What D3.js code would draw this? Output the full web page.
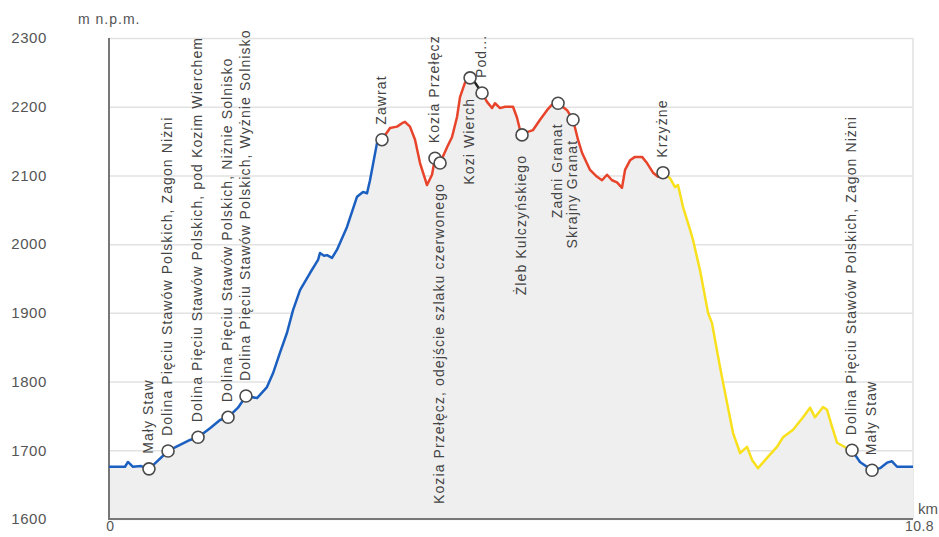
<!DOCTYPE html>
<html>
<head>
<meta charset="utf-8">
<script src="https://cdn.jsdelivr.net/npm/d3@7"></script>
<style>
  body { margin: 0; background: #fff; }
  text { font-family: "Liberation Sans", Arial, sans-serif; }
</style>
</head>
<body>
<div id="chart"></div>
<script>
// Profile segments: [distance km, elevation m]
const blueStart = [
  [0.00, 1676], [0.215, 1676], [0.255, 1683], [0.322, 1676], [0.43, 1677],
  [0.537, 1673], [0.618, 1681], [0.793, 1699], [0.954, 1708], [1.088, 1715],
  [1.196, 1719], [1.357, 1732], [1.491, 1744], [1.599, 1748], [1.733, 1762],
  [1.840, 1779], [1.988, 1776], [2.122, 1792], [2.203, 1812], [2.297, 1842],
  [2.391, 1871], [2.472, 1904], [2.566, 1933], [2.700, 1958], [2.808, 1977],
  [2.834, 1987], [2.888, 1983], [2.929, 1984], [2.996, 1980], [3.063, 1992],
  [3.197, 2025], [3.332, 2069], [3.412, 2076], [3.466, 2074], [3.506, 2093],
  [3.600, 2147], [3.667, 2152]
];
const redRidgeA = [
  [3.667, 2152], [3.775, 2169], [3.869, 2171], [3.936, 2176], [3.976, 2178],
  [4.043, 2171], [4.111, 2152], [4.178, 2118], [4.272, 2086], [4.339, 2101],
  [4.379, 2125], [4.447, 2118], [4.541, 2141], [4.608, 2156], [4.675, 2185],
  [4.715, 2214], [4.782, 2235], [4.850, 2242]
];
const blackPiece = [
  [4.850, 2242], [4.917, 2235], [5.011, 2220]
];
const redRidgeB = [
  [5.011, 2220], [5.078, 2207], [5.145, 2198], [5.185, 2205], [5.253, 2198],
  [5.320, 2200], [5.427, 2200], [5.481, 2184], [5.521, 2166], [5.548, 2159],
  [5.615, 2163], [5.696, 2166], [5.790, 2181], [5.884, 2195], [5.951, 2203],
  [6.032, 2205], [6.153, 2195], [6.233, 2181], [6.300, 2152], [6.354, 2133],
  [6.462, 2108], [6.556, 2098], [6.623, 2093], [6.690, 2101], [6.757, 2093],
  [6.824, 2090], [6.891, 2082], [6.932, 2108], [6.999, 2122], [7.066, 2127],
  [7.160, 2127], [7.227, 2118], [7.308, 2104], [7.375, 2098], [7.442, 2104]
];
const yellowDescent = [
  [7.442, 2104], [7.536, 2096], [7.603, 2083], [7.643, 2086], [7.711, 2054],
  [7.805, 2021], [7.845, 2006], [7.939, 1962], [8.047, 1900], [8.100, 1885],
  [8.208, 1821], [8.302, 1769], [8.383, 1725], [8.477, 1696], [8.571, 1705],
  [8.638, 1686], [8.718, 1674], [8.839, 1689], [8.973, 1705], [9.054, 1719],
  [9.189, 1730], [9.323, 1748], [9.417, 1762], [9.484, 1748], [9.592, 1763],
  [9.645, 1759], [9.713, 1734], [9.780, 1711], [9.914, 1703], [9.981, 1700]
];
const blueEnd = [
  [9.981, 1700], [10.088, 1683], [10.250, 1671], [10.357, 1674], [10.451, 1682],
  [10.518, 1684], [10.586, 1676], [10.800, 1676]
];

// Waypoints
const pointNames = [
  "Mały Staw",
  "Dolina Pięciu Stawów Polskich, Zagon Niżni",
  "Dolina Pięciu Stawów Polskich, pod Kozim Wierchem",
  "Dolina Pięciu Stawów Polskich, Niżnie Solnisko",
  "Dolina Pięciu Stawów Polskich, Wyżnie Solnisko",
  "Zawrat",
  "Kozia Przełęcz",
  "Kozia Przełęcz, odejście szlaku czerwonego",
  "Kozi Wierch",
  "Pod...",
  "Żleb Kulczyńskiego",
  "Zadni Granat",
  "Skrajny Granat",
  "Krzyżne",
  "Dolina Pięciu Stawów Polskich, Zagon Niżni",
  "Mały Staw"
];
const pointKm = [0.537, 0.793, 1.196, 1.599, 1.840, 3.667, 4.379, 4.447,
                 4.850, 5.011, 5.548, 6.032, 6.233, 7.442, 9.981, 10.250];
const pointElev = [1673, 1699, 1719, 1748, 1779, 2152, 2125, 2118,
                   2242, 2220, 2159, 2205, 2181, 2104, 1700, 1671];
const labelBelow = [false, false, false, false, false, false, false, true,
                    true, false, true, true, true, false, false, false];

const yTicks = [1600, 1700, 1800, 1900, 2000, 2100, 2200, 2300];
const xTicks = [0, 10.8];

// ------------------------------------------
const width = 939, height = 537;
const plotLeft = 109, plotRight = 913, plotTop = 38, plotBottom = 519;

const svg = d3.select("#chart").append("svg")
    .attr("width", width)
    .attr("height", height);

const x = d3.scaleLinear().domain([0, 10.8]).range([plotLeft, plotRight]);
const y = d3.scaleLinear().domain([1600, 2300]).range([plotBottom, plotTop]);

// grid lines
svg.append("g")
    .attr("transform", `translate(${plotLeft},0)`)
    .call(d3.axisLeft(y).tickValues(yTicks).tickSize(-(plotRight - plotLeft)).tickFormat(""))
    .call(g => g.select(".domain").remove())
    .call(g => g.selectAll("line").attr("stroke", "#e2e2e2").attr("stroke-width", 1.5));

// right border
svg.append("line")
    .attr("x1", plotRight).attr("x2", plotRight)
    .attr("y1", plotTop).attr("y2", plotBottom)
    .attr("stroke", "#e2e2e2").attr("stroke-width", 1.5);

// filled area under profile
const allPoints = blueStart.concat(redRidgeA, blackPiece, redRidgeB, yellowDescent, blueEnd);
const area = d3.area()
    .x(d => x(d[0]))
    .y0(y(1600))
    .y1(d => y(d[1]));

svg.append("path")
    .datum(allPoints)
    .attr("d", area)
    .attr("fill", "#efefef");

// y tick labels
svg.append("g")
    .attr("transform", "translate(47,0)")
    .call(d3.axisLeft(y).tickValues(yTicks).tickSize(0).tickPadding(0).tickFormat(d3.format("d")))
    .call(g => g.select(".domain").remove())
    .call(g => g.selectAll("text")
        .attr("fill", "#555")
        .style("font-size", "15px")
        .style("letter-spacing", "0.6px")
        .style("font-family", "'Liberation Sans', Arial, sans-serif"));

// x tick labels
svg.append("g")
    .attr("transform", `translate(0,${plotBottom})`)
    .call(d3.axisBottom(x).tickValues(xTicks).tickSize(0).tickPadding(2).tickFormat(d => d === 0 ? "0" : "10.8"))
    .call(g => g.select(".domain").remove())
    .call(g => g.selectAll("text")
        .attr("fill", "#555")
        .attr("dx", d => d === 0 ? 1 : 6)
        .style("font-size", "14px")
        .style("letter-spacing", "0.5px")
        .style("font-family", "'Liberation Sans', Arial, sans-serif"));

// axis lines
svg.append("line")
    .attr("x1", plotLeft).attr("x2", plotLeft)
    .attr("y1", plotTop).attr("y2", plotBottom + 1)
    .attr("stroke", "#777").attr("stroke-width", 2);
svg.append("line")
    .attr("x1", plotLeft).attr("x2", plotRight)
    .attr("y1", plotBottom).attr("y2", plotBottom)
    .attr("stroke", "#777").attr("stroke-width", 2);

// unit labels
svg.append("text")
    .attr("x", 78).attr("y", 24)
    .attr("fill", "#555")
    .style("font-size", "14px")
    .style("letter-spacing", "1px")
    .text("m n.p.m.");
svg.append("text")
    .attr("x", 918).attr("y", 514)
    .attr("fill", "#555")
    .style("font-size", "15px")
    .text("km");

// profile lines
const line = d3.line()
    .x(d => x(d[0]))
    .y(d => y(d[1]));

const segments = [
  { pts: blueStart, color: "#1b5fc1" },
  { pts: redRidgeA, color: "#e8442b" },
  { pts: blackPiece, color: "#222" },
  { pts: redRidgeB, color: "#e8442b" },
  { pts: yellowDescent, color: "#f8e01c" },
  { pts: blueEnd, color: "#1b5fc1" }
];

segments.forEach(s => {
    svg.append("path")
        .datum(s.pts)
        .attr("d", line)
        .attr("fill", "none")
        .attr("stroke", s.color)
        .attr("stroke-width", 2.5)
        .attr("stroke-linejoin", "round");
});

// waypoint labels
pointNames.forEach((name, i) => {
    const px = x(pointKm[i]) - 1;
    const py = y(pointElev[i]);
    const below = labelBelow[i];
    svg.append("text")
        .attr("transform", `translate(${px},${below ? py + 20 : py - 15}) rotate(-90)`)
        .attr("text-anchor", below ? "end" : "start")
        .attr("dy", "0.35em")
        .attr("fill", "#444")
        .style("font-size", "14px")
        .style("letter-spacing", "1.1px")
        .text(name);
});

// waypoint markers
pointNames.forEach((name, i) => {
    svg.append("circle")
        .attr("cx", x(pointKm[i]))
        .attr("cy", y(pointElev[i]))
        .attr("r", 6)
        .attr("fill", "#fff")
        .attr("stroke", "#4a4a4a")
        .attr("stroke-width", 1.6);
});
</script>
</body>
</html>
